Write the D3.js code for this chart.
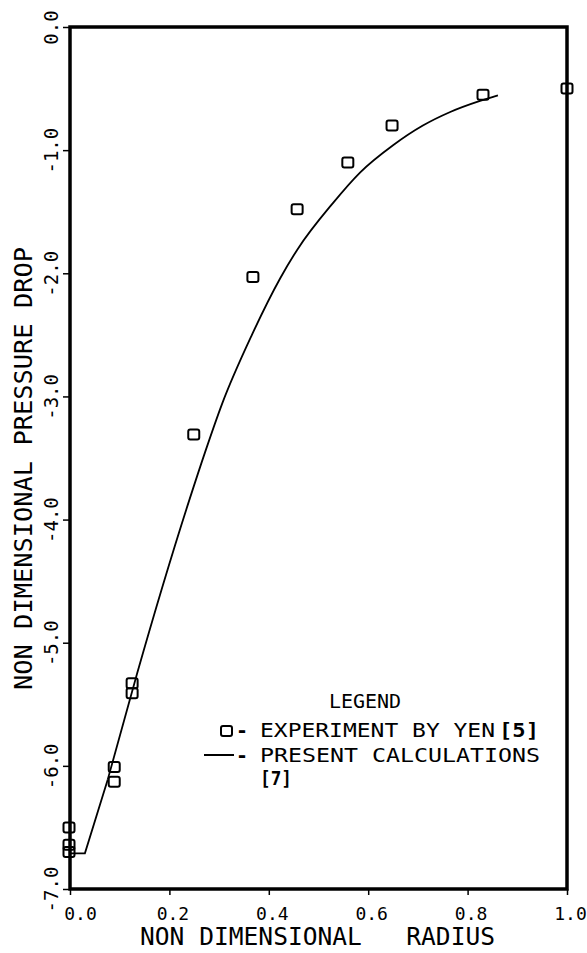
<!DOCTYPE html>
<html>
<head>
<meta charset="utf-8">
<script src="https://cdn.jsdelivr.net/npm/d3@7"></script>
<style>
  html, body { margin: 0; padding: 0; background: #fff; }
  svg { display: block; font-family: "DejaVu Sans Mono", monospace; }
</style>
</head>
<body>
<div id="chart"></div>
<script>
// Experiment by Yen [5]
const expX = [1.0, 0.831, 0.648, 0.559, 0.457, 0.368, 0.249, 0.125, 0.125, 0.089, 0.089, -0.002, -0.002, -0.002];
const expY = [-0.50, -0.55, -0.80, -1.10, -1.48, -2.03, -3.31, -5.33, -5.41, -6.01, -6.13, -6.50, -6.64, -6.70];

// Present calculations [7]
const calcX = [0.000, 0.030, 0.076, 0.135, 0.241, 0.272, 0.306, 0.366, 0.423, 0.457, 0.529, 0.584, 0.650, 0.710, 0.765, 0.825, 0.861];
const calcY = [-6.71, -6.71, -6.11, -5.25, -3.83, -3.45, -3.06, -2.50, -2.04, -1.81, -1.43, -1.18, -0.96, -0.80, -0.69, -0.60, -0.555];

const xTicks = [0, 0.2, 0.4, 0.6, 0.8, 1.0];
const xTickLabels = ["0.0", "0.2", "0.4", "0.6", "0.8", "1.0"];
const yTicks = [0, -1, -2, -3, -4, -5, -6, -7];
const yTickLabels = ["0.0", "-1.0", "-2.0", "-3.0", "-4.0", "-5.0", "-6.0", "-7.0"];

const width = 587, height = 953;
const margin = { top: 27, right: 20, bottom: 64, left: 70 };

const svg = d3.select('#chart').append('svg')
  .attr('width', width)
  .attr('height', height);

const x = d3.scaleLinear().domain([0, 1]).range([margin.left, width - margin.right]);
const y = d3.scaleLinear().domain([-7, 0]).range([height - margin.bottom, margin.top]);

// Axes
const xAxis = svg.append('g')
  .attr('transform', `translate(0,${y(-7)})`)
  .call(d3.axisBottom(x).tickValues(xTicks).tickSize(6)
    .tickFormat((d, i) => xTickLabels[i]));
xAxis.select('.domain').remove();
xAxis.selectAll('line').attr('stroke', '#000').attr('stroke-width', 1.5);
xAxis.selectAll('text')
  .attr('x', (d, i) => i === 0 ? 10 : 3).attr('y', 31).attr('dy', 0)
  .attr('font-size', 18).attr('font-family', '"DejaVu Sans Mono", monospace')
  .attr('fill', '#000');

const yAxis = svg.append('g')
  .attr('transform', `translate(${x(0)},0)`)
  .call(d3.axisLeft(y).tickValues(yTicks).tickSize(7)
    .tickFormat((d, i) => yTickLabels[i]));
yAxis.select('.domain').remove();
yAxis.selectAll('line').attr('stroke', '#000').attr('stroke-width', 1.5);
yAxis.selectAll('text')
  .attr('transform', 'rotate(-90)')
  .attr('x', 0).attr('y', -12).attr('dy', 0)
  .attr('text-anchor', 'middle')
  .attr('font-size', 19).attr('font-family', '"DejaVu Sans Mono", monospace')
  .attr('fill', '#000');

// Frame
svg.append('rect')
  .attr('x', x(0)).attr('y', y(0))
  .attr('width', x(1) - x(0)).attr('height', y(-7) - y(0))
  .attr('fill', 'none').attr('stroke', '#000').attr('stroke-width', 3.5);

// Axis titles
svg.append('text')
  .attr('x', 140).attr('y', 945)
  .attr('textLength', 355).attr('lengthAdjust', 'spacingAndGlyphs')
  .attr('font-size', 24)
  .style('white-space', 'pre')
  .text('NON DIMENSIONAL   RADIUS');

svg.append('text')
  .attr('transform', 'translate(32,690) rotate(-90)')
  .attr('textLength', 443).attr('lengthAdjust', 'spacingAndGlyphs')
  .attr('font-size', 24)
  .text('NON DIMENSIONAL PRESSURE DROP');

// Calculated curve: sharp corner at the start, smooth afterwards
const calc = calcX.map((d, i) => [d, calcY[i]]);
const lineLin = d3.line().x(d => x(d[0])).y(d => y(d[1]));
const lineSmooth = d3.line().x(d => x(d[0])).y(d => y(d[1])).curve(d3.curveMonotoneX);

svg.append('path')
  .attr('d', lineLin(calc.slice(0, 3)))
  .attr('fill', 'none').attr('stroke', '#000').attr('stroke-width', 1.8);
svg.append('path')
  .attr('d', lineSmooth(calc.slice(2)))
  .attr('fill', 'none').attr('stroke', '#000').attr('stroke-width', 1.8);

// Experimental points
const exp = expX.map((d, i) => [d, expY[i]]);
svg.append('g').selectAll('rect')
  .data(exp)
  .join('rect')
  .attr('x', d => x(d[0]) - 5.5)
  .attr('y', d => y(d[1]) - 5)
  .attr('width', 11).attr('height', 10).attr('rx', 2)
  .attr('fill', 'none').attr('stroke', '#000').attr('stroke-width', 2);

// Legend
const leg = svg.append('g').attr('font-size', 20);
const T = 260;
leg.append('text').attr('x', 365).attr('y', 708).attr('text-anchor', 'middle').text('LEGEND');

leg.append('rect')
  .attr('x', 221).attr('y', 726).attr('width', 11).attr('height', 10).attr('rx', 2)
  .attr('fill', 'none').attr('stroke', '#000').attr('stroke-width', 2);
leg.append('text').attr('x', T - 24).attr('y', 737).attr('font-weight', 'bold').text('-');
leg.append('text').attr('x', T).attr('y', 737)
  .attr('textLength', 235).attr('lengthAdjust', 'spacingAndGlyphs')
  .text('EXPERIMENT BY YEN');
leg.append('text').attr('x', T + 239).attr('y', 737).attr('font-weight', 'bold')
  .attr('textLength', 40).attr('lengthAdjust', 'spacingAndGlyphs').text('[5]');

leg.append('line')
  .attr('x1', 204).attr('x2', 234).attr('y1', 755).attr('y2', 755)
  .attr('stroke', '#000').attr('stroke-width', 2);
leg.append('text').attr('x', T - 24).attr('y', 762).attr('font-weight', 'bold').text('-');
leg.append('text').attr('x', T).attr('y', 762)
  .attr('textLength', 280).attr('lengthAdjust', 'spacingAndGlyphs')
  .text('PRESENT CALCULATIONS');
leg.append('text').attr('x', T).attr('y', 785).attr('font-weight', 'bold')
  .attr('textLength', 32).attr('lengthAdjust', 'spacingAndGlyphs').text('[7]');
</script>
</body>
</html>
